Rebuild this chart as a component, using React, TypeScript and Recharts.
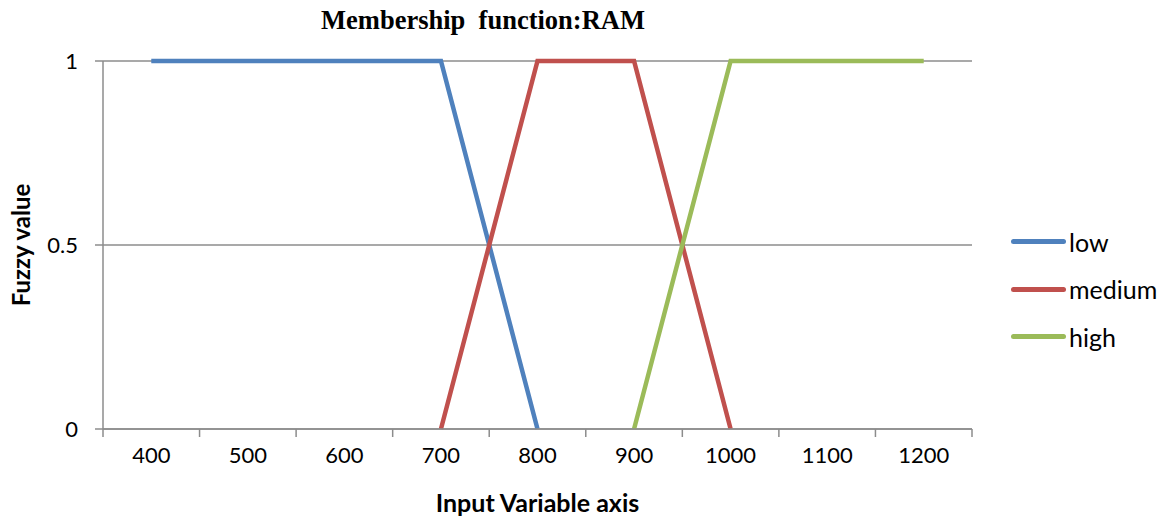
import { LineChart, Line, XAxis, YAxis, CartesianGrid } from 'recharts';

const inputValues = [400, 500, 600, 700, 800, 900, 1000, 1100, 1200];
const lowValues = [1, 1, 1, 1, 0, null, null, null, null];
const mediumValues = [null, null, null, 0, 1, 1, 0, null, null];
const highValues = [null, null, null, null, null, 0, 1, 1, 1];
const xTicks = [350, 400, 450, 500, 550, 600, 650, 700, 750, 800, 850, 900, 950, 1000, 1050, 1100, 1150, 1200, 1250];
const yTicks = [0, 0.5, 1];

const series = [
  { key: 'low', color: '#4F81BD' },
  { key: 'medium', color: '#C0504D' },
  { key: 'high', color: '#9BBB59' },
];

const data = inputValues.map((x, i) => ({
  x,
  low: lowValues[i],
  medium: mediumValues[i],
  high: highValues[i],
}));

const FONT = 'Lato, "Noto Sans", sans-serif';

// labels sit on the hundreds, tick marks fall halfway between (excel style)
function XTick(props: any) {
  const { x, y, payload } = props;
  if (payload.value % 100 === 50) {
    return <line x1={x} x2={x} y1={y} y2={y + 8} stroke="#8c8c8c" strokeWidth={1.5} />;
  }
  return (
    <text x={x} y={y + 34} textAnchor="middle" fontSize={22} fontFamily={FONT} fill="#000">
      {payload.value}
    </text>
  );
}

function LegendBox() {
  return (
    <div style={{ position: 'absolute', left: 1011, top: 218, fontFamily: FONT, fontSize: 25, color: '#000' }}>
      {series.map((s) => (
        <div key={s.key} style={{ display: 'flex', alignItems: 'center', height: 47.5 }}>
          <div style={{ width: 55, height: 5, borderRadius: 3, background: s.color, marginRight: 3 }} />
          <span>{s.key}</span>
        </div>
      ))}
    </div>
  );
}

export default function App() {
  return (
    <div style={{ position: 'absolute', left: 0, top: 0, width: 1173, height: 518, background: '#fff' }}>
      <div
        style={{
          position: 'absolute',
          left: 0,
          width: 966,
          top: 5,
          textAlign: 'center',
          fontFamily: '"Liberation Serif", "Times New Roman", serif',
          fontWeight: 'bold',
          fontSize: 26.5,
          whiteSpace: 'pre',
        }}
      >
        {'Membership  function:RAM'}
      </div>
      <LineChart width={1173} height={518} data={data} margin={{ top: 61, right: 201, left: 0, bottom: 0 }}>
        <CartesianGrid horizontal vertical={false} stroke="#8c8c8c" strokeWidth={1.5} />
        <XAxis
          dataKey="x"
          type="number"
          domain={[350, 1250]}
          ticks={xTicks}
          interval={0}
          tick={<XTick />}
          tickLine={false}
          tickSize={0}
          tickMargin={0}
          axisLine={{ stroke: '#8c8c8c', strokeWidth: 1.5 }}
          height={89}
          label={{
            value: 'Input Variable axis',
            position: 'insideBottom',
            offset: 6,
            style: { fontFamily: FONT, fontWeight: 'bold', fontSize: 25, fill: '#000' },
          }}
        />
        <YAxis
          type="number"
          domain={[0, 1]}
          ticks={yTicks}
          width={103}
          tickSize={8}
          tickMargin={17}
          tickLine={{ stroke: '#8c8c8c', strokeWidth: 1.5 }}
          axisLine={{ stroke: '#8c8c8c', strokeWidth: 1.5 }}
          tick={{ fontFamily: FONT, fontSize: 22, fill: '#000' }}
          label={{
            value: 'Fuzzy value',
            angle: -90,
            position: 'insideLeft',
            offset: 21,
            style: { fontFamily: FONT, fontWeight: 'bold', fontSize: 24, fill: '#000', textAnchor: 'middle' },
          }}
        />
        {series.map((s) => (
          <Line
            key={s.key}
            dataKey={s.key}
            name={s.key}
            type="linear"
            stroke={s.color}
            strokeWidth={4.5}
            dot={false}
            activeDot={false}
            isAnimationActive={false}
          />
        ))}
      </LineChart>
      <LegendBox />
    </div>
  );
}
